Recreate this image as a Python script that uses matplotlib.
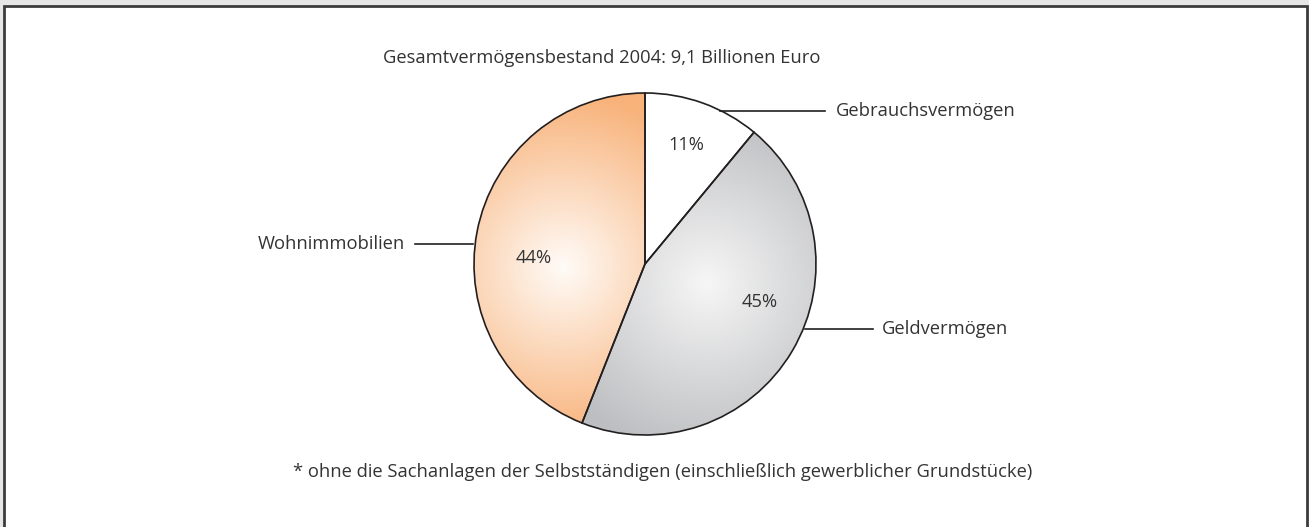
import numpy as np
import matplotlib.pyplot as plt
from matplotlib.patches import Rectangle
from matplotlib.colors import LinearSegmentedColormap

plt.rcParams['font.family'] = ['Open Sans', 'DejaVu Sans']

# data
categories = ['Gebrauchsvermögen', 'Geldvermögen', 'Wohnimmobilien']
shares = [11, 45, 44]
title = 'Gesamtvermögensbestand 2004: 9,1 Billionen Euro'
footnote = '* ohne die Sachanlagen der Selbstständigen (einschließlich gewerblicher Grundstücke)'

W, H = 1309, 527
fig = plt.figure(figsize=(W / 100, H / 100), dpi=100)
fig.patch.set_facecolor('#e6e6e6')
ax = fig.add_axes([0, 0, 1, 1])


def py(y):
    # pixel row from top -> data y
    return H - y


cx, cy, r = 645, py(264), 171
txt = '#333333'
edge = '#231f20'

wedges, _ = ax.pie(shares, startangle=90, counterclock=False, center=(cx, cy),
                   radius=r, colors=['white', 'none', 'none'],
                   wedgeprops=dict(edgecolor=edge, linewidth=1.2), frame=True)
ax.set_xlim(0, W)
ax.set_ylim(0, H)
ax.set_aspect('equal')
ax.axis('off')

# frame
ax.add_patch(Rectangle((4, -10), 1303, py(6) + 10, facecolor='white',
                       edgecolor='#3c3c3c', linewidth=2, zorder=-5))

# radial gradients for the shaded wedges
xx, yy = np.meshgrid(np.linspace(cx - r, cx + r, 400), np.linspace(cy - r, cy + r, 400))
shade = {
    1: ((707, py(283)), '#f6f6f6', '#bdbec1', 175),
    2: ((563, py(267)), '#fffbf7', '#f8b27a', 175),
}
for i, ((hx, hy), c0, c1, rad) in shade.items():
    d = np.clip(np.hypot(xx - hx, yy - hy) / rad, 0, 1)
    cmap = LinearSegmentedColormap.from_list('g%d' % i, [c0, c1])
    im = ax.imshow(d, cmap=cmap, extent=(cx - r, cx + r, cy - r, cy + r),
                   origin='lower', zorder=wedges[i].get_zorder() - 0.5,
                   interpolation='bilinear')
    im.set_clip_path(wedges[i])
ax.set_xlim(0, W)
ax.set_ylim(0, H)

fs = 13.2
# percentage labels
pct_pos = [(686, 145), (760, 302), (534, 258)]
for s, (x, y) in zip(shares, pct_pos):
    ax.text(x, py(y), '%d%%' % s, ha='center', va='center', fontsize=fs, color=txt)

# category labels with leader lines
ax.plot([720, 825], [py(111), py(111)], color=edge, lw=1.2)
ax.text(836, py(111), categories[0], ha='left', va='center', fontsize=fs, color=txt)
ax.plot([805, 873], [py(329), py(329)], color=edge, lw=1.2)
ax.text(882, py(329), categories[1], ha='left', va='center', fontsize=fs, color=txt)
ax.plot([415, 473], [py(244), py(244)], color=edge, lw=1.2)
ax.text(405, py(244), categories[2], ha='right', va='center', fontsize=fs, color=txt)

ax.text(602, py(58), title, ha='center', va='center', fontsize=fs, color=txt)
ax.text(663, py(472), footnote, ha='center', va='center', fontsize=fs, color=txt)

fig.savefig('out.png', dpi=100, facecolor=fig.get_facecolor())
